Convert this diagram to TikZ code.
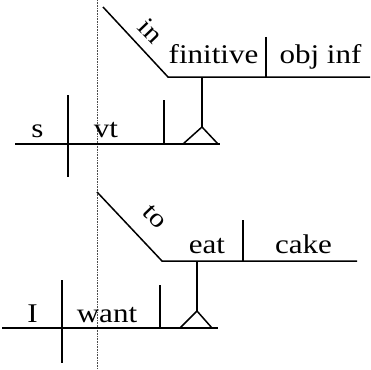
\documentclass[tikz,border=0pt]{standalone}
\usepackage{fontspec}
\setmainfont{Liberation Serif}
\newcommand{\stxt}[1]{\scalebox{1.15}[1]{#1}}
\begin{document}
\begin{tikzpicture}[x=1pt,y=-1pt,
  heavy/.style={line width=1.5pt},
  guide/.style={densely dotted,line width=0.6pt,black!70},
  lbl/.style={font=\fontsize{27}{29}\selectfont,anchor=base,inner sep=0pt},
  slantlbl/.style={font=\fontsize{26}{28}\selectfont,anchor=center,inner sep=0pt,rotate=-46}]
\useasboundingbox (0,0) rectangle (371,369);
% guide line
\coordinate (gtop) at (97,0);
\coordinate (gbot) at (97,369);
\draw[guide] (gtop) -- (gbot);
% ---------- top diagram ----------
\coordinate (b1l) at (15,144);
\coordinate (b1r) at (220,144);
\coordinate (d1t) at (68,95);
\coordinate (d1b) at (68,177);
\coordinate (v1t) at (164,100);
\coordinate (v1b) at (164,144);
\coordinate (t1l) at (183,144);
\coordinate (t1a) at (202,127);
\coordinate (t1r) at (218,144);
\coordinate (s1t) at (103,7);
\coordinate (s1j) at (168,77);
\coordinate (u1r) at (370,77);
\coordinate (st1) at (202,77);
\coordinate (dv1t) at (266,37);
\coordinate (dv1b) at (266,77);
\draw[heavy] (b1l) -- (b1r);
\draw[heavy] (d1t) -- (d1b);
\draw[heavy] (v1t) -- (v1b);
\draw[heavy,line join=miter] (t1l) -- (t1a) -- (t1r);
\draw[heavy] (st1) -- (t1a);
\draw[heavy] (s1t) -- (s1j) -- (u1r);
\draw[heavy] (dv1t) -- (dv1b);
\node[lbl] (s) at (37.5,137) {\stxt{s}};
\node[lbl] (vt) at (106,137) {\stxt{vt}};
\node[lbl] (finitive) at (213.5,63) {\stxt{finitive}};
\node[lbl] (objinf) at (320.5,63) {\stxt{obj inf}};
\node[slantlbl] (in) at (151,31) {\stxt{in}};
% ---------- bottom diagram ----------
\coordinate (b2l) at (2,328);
\coordinate (b2r) at (218,328);
\coordinate (d2t) at (62,280);
\coordinate (d2b) at (62,363);
\coordinate (v2t) at (160,285);
\coordinate (v2b) at (160,328);
\coordinate (t2l) at (180,328);
\coordinate (t2a) at (197,311);
\coordinate (t2r) at (212,328);
\coordinate (s2t) at (97,192);
\coordinate (s2j) at (162,261);
\coordinate (u2r) at (357,261);
\coordinate (st2) at (197,261);
\coordinate (dv2t) at (243,220);
\coordinate (dv2b) at (243,261);
\draw[heavy] (b2l) -- (b2r);
\draw[heavy] (d2t) -- (d2b);
\draw[heavy] (v2t) -- (v2b);
\draw[heavy,line join=miter] (t2l) -- (t2a) -- (t2r);
\draw[heavy] (st2) -- (t2a);
\draw[heavy] (s2t) -- (s2j) -- (u2r);
\draw[heavy] (dv2t) -- (dv2b);
\node[lbl] (I) at (32.5,322) {\stxt{I}};
\node[lbl] (want) at (107,322) {\stxt{want}};
\node[lbl] (eat) at (207,253) {\stxt{eat}};
\node[lbl] (cake) at (303.5,253) {\stxt{cake}};
\node[slantlbl] (to) at (155,217) {\stxt{to}};
\end{tikzpicture}
\end{document}
